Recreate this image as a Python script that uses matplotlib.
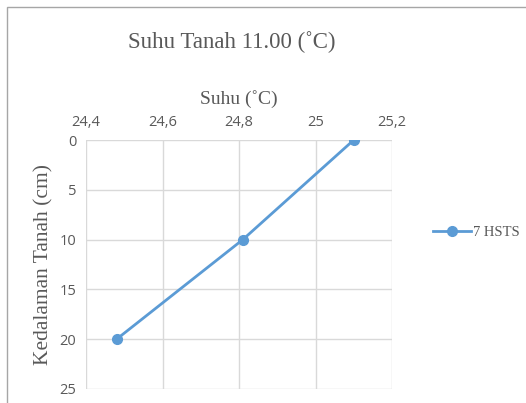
import matplotlib.pyplot as plt
from matplotlib.patches import Rectangle
from matplotlib.lines import Line2D

temperature = [25.1, 24.81, 24.48]
depth = [0, 10, 20]
series_name = "7 HSTS"
x_ticks = [24.4, 24.6, 24.8, 25.0, 25.2]
x_tick_labels = ["24,4", "24,6", "24,8", "25", "25,2"]
y_ticks = [0, 5, 10, 15, 20, 25]

W, H = 526, 403
fig = plt.figure(figsize=(W / 100, H / 100), dpi=100)
fig.patch.set_facecolor("white")

# chart frame
fig.add_artist(Rectangle((7 / W, -0.01), 1.0, 1 - 7 / H + 0.01, transform=fig.transFigure,
                         fill=False, edgecolor="#A6A6A6", linewidth=1.0))

ax = fig.add_axes([86 / W, 1 - 389 / H, (392 - 86) / W, (389 - 140) / H])
blue = "#5B9BD5"
grid = "#D9D9D9"
tick_col = "#595959"

ax.plot(temperature, depth, color=blue, linewidth=2.0, marker="o", markersize=7,
        markerfacecolor=blue, markeredgecolor=blue, label=series_name)

ax.set_xlim(24.4, 25.2)
ax.set_ylim(25, 0)
ax.xaxis.tick_top()
ax.xaxis.set_label_position("top")
ax.set_xticks(x_ticks)
ax.set_xticklabels(x_tick_labels)
ax.set_yticks(y_ticks)
ax.tick_params(length=0, labelsize=10.5, labelcolor=tick_col, pad=7)
for lab in ax.get_xticklabels() + ax.get_yticklabels():
    lab.set_family("Open Sans")
ax.grid(True, color=grid, linewidth=1.0)
ax.set_axisbelow(True)
for s in ax.spines.values():
    s.set_visible(False)

ax.set_xlabel("Suhu (˚C)", fontsize=14, family="Liberation Serif", color=tick_col, labelpad=8)
ax.set_ylabel("Kedalaman Tanah (cm)", fontsize=15.5, family="Liberation Serif", color=tick_col, labelpad=4)

fig.text(232 / W, 1 - 42 / H, "Suhu Tanah 11.00 (˚C)", fontsize=16.5, family="Liberation Serif",
         color=tick_col, ha="center", va="center")

handle = Line2D([], [], color=blue, linewidth=2.0, marker="o", markersize=7)
fig.legend([handle], [series_name], loc="center left", bbox_to_anchor=(420 / W, 1 - 232 / H),
           frameon=False, prop={"family": "Liberation Serif", "size": 10.5}, handlelength=2.6,
           handletextpad=0.15, labelcolor=tick_col)

fig.savefig("out.png", dpi=100)
